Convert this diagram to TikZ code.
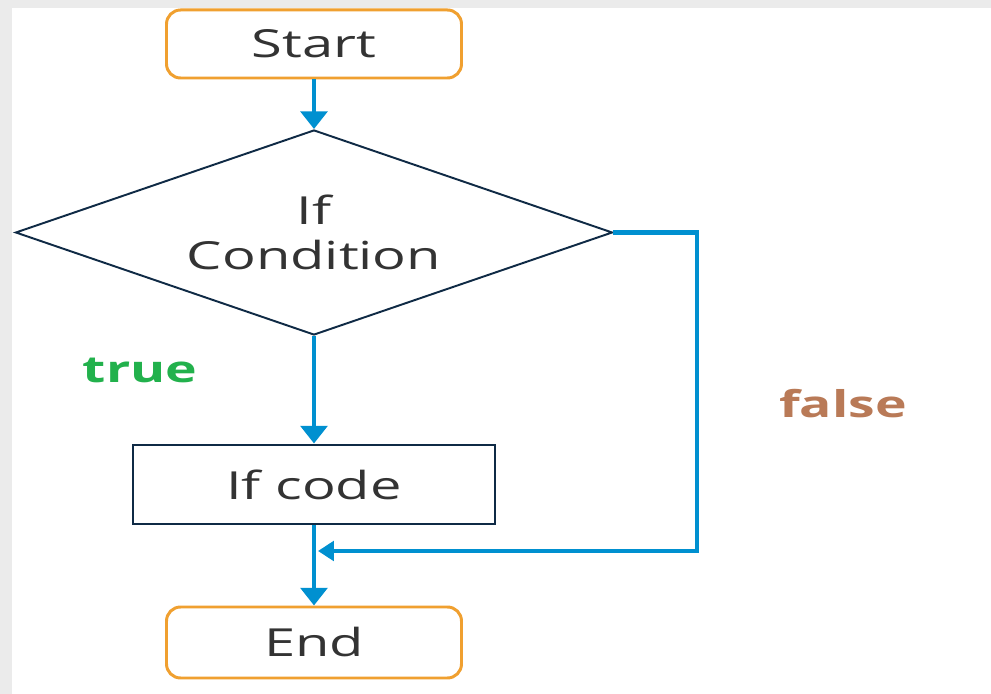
\documentclass[tikz,border=0pt]{standalone}
\usepackage{fontspec}
\setmainfont{Open Sans}[FakeStretch=1.45]
\usepackage{xcolor}
\usetikzlibrary{shapes.geometric,arrows.meta}

\definecolor{boxorange}{HTML}{F0A030}
\definecolor{flowblue}{HTML}{0090D0}
\definecolor{edgenavy}{HTML}{0F2A45}
\definecolor{truegreen}{HTML}{22B14C}
\definecolor{falsebrown}{HTML}{B97A57}

\tikzset{
  terminal/.style={draw=boxorange, line width=1.7pt, rounded corners=8pt,
    minimum width=5.9cm, minimum height=1.36cm, text=black!80},
  decision/.style={draw=edgenavy, line width=1.1pt, diamond, aspect=2.9,
    inner sep=0pt, minimum width=11.94cm, minimum height=4.1cm,
    align=center, text=black!80},
  process/.style={draw=edgenavy, line width=1.7pt,
    minimum width=7.24cm, minimum height=1.58cm, text=black!80},
  flow/.style={draw=flowblue, line width=2.8pt,
    -{Triangle[width=15pt,length=10pt]}},
  label/.style={font=\bfseries\fontsize{21}{24}\selectfont}
}

\begin{document}
\begin{tikzpicture}[font=\fontsize{22}{25.5}\selectfont]

  % frame
  \useasboundingbox (0,0) rectangle (19.82,13.88);
  \fill[black!8] (0,0) rectangle (19.82,13.88);
  \fill[white] (0.24,0) rectangle (19.82,13.72);

  \node[terminal] (start) at (6.28,13.0) {Start};
  \node[decision] (cond) at (6.28,9.23) {If\\Condition};
  \node[process] (ifcode) at (6.28,4.19) {If code};
  \node[terminal, minimum height=1.42cm] (stop) at (6.28,1.03) {End};

  \coordinate (turn) at (13.94,2.86);
  \coordinate (join) at (6.36,2.86);

  \draw[flow] (start) -- (cond);
  \draw[flow] (cond) -- (ifcode);
  \draw[flow] (ifcode) -- (stop);
  \draw[flow, -{Triangle[width=11pt,length=9pt]}] (cond.east) -| (turn) -- (join);

  \node[label, text=truegreen] (truelbl) at (2.8,6.48) {true};
  \node[label, text=falsebrown] (falselbl) at (16.86,5.8) {false};
\end{tikzpicture}
\end{document}
